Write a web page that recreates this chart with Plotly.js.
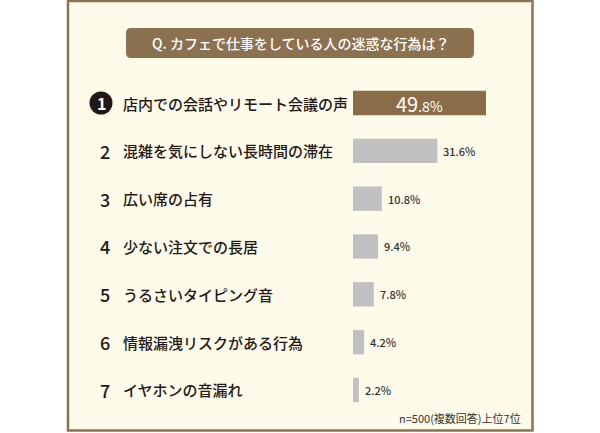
<!DOCTYPE html>
<html>
<head>
<meta charset="utf-8">
<script src="https://cdn.plot.ly/plotly-3.0.1.min.js"></script>
<style>html,body{margin:0;padding:0;background:#fff;}#chart{width:600px;height:433px;}</style>
</head>
<body>
<div id="chart"></div>
<script>
// ---- data ----
const titleText = "Q. カフェで仕事をしている人の迷惑な行為は？";
const ranks = [1, 2, 3, 4, 5, 6, 7];
const categories = [
  "店内での会話やリモート会議の声",
  "混雑を気にしない長時間の滞在",
  "広い席の占有",
  "少ない注文での長居",
  "うるさいタイピング音",
  "情報漏洩リスクがある行為",
  "イヤホンの音漏れ"
];
const values = [49.8, 31.6, 10.8, 9.4, 7.8, 4.2, 2.2];
const footnote = "n=500(複数回答)上位7位";

// ---- styles ----
const W = 600, H = 433;
const FONT = "'Noto Sans CJK JP', 'Noto Sans', sans-serif";
const brown = "#8a6d48";
const grey = "#c1c1c1";
const frameColor = "#8b7453";
const cream = "#fffbea";
const px = v => v / W;          // pixel x -> paper
const py = v => 1 - v / H;      // pixel y -> paper

const trace = {
  type: "bar",
  orientation: "h",
  y: categories,
  x: values,
  width: 0.51,
  marker: { color: values.map((v, i) => i === 0 ? brown : grey), line: { width: 0 } },
  hoverinfo: "skip"
};

const annotations = [];
const shapes = [];

// frame
shapes.push({
  type: "rect", xref: "paper", yref: "paper", layer: "below",
  x0: px(68), x1: px(532.5), y0: py(430.5), y1: py(1),
  line: { color: frameColor, width: 2.5 }, fillcolor: cream
});

// title box (rounded)
(function () {
  const l = px(126), r = px(474), t = py(28), b = py(58);
  const rx = px(5), ry = 5 / H;
  const path = `M ${l + rx} ${t} L ${r - rx} ${t} Q ${r} ${t} ${r} ${t - ry} L ${r} ${b + ry} Q ${r} ${b} ${r - rx} ${b} L ${l + rx} ${b} Q ${l} ${b} ${l} ${b + ry} L ${l} ${t - ry} Q ${l} ${t} ${l + rx} ${t} Z`;
  shapes.push({ type: "path", xref: "paper", yref: "paper", path: path, fillcolor: "#8b7150", line: { width: 0 }, layer: "below" });
})();
annotations.push({
  xref: "paper", yref: "paper", x: px(300), y: py(43.5), xanchor: "center", yanchor: "middle",
  text: titleText, showarrow: false,
  font: { family: FONT, size: 14, color: "#ffffff", weight: 500 }
});

// rank badges, labels, values
categories.forEach((c, i) => {
  if (ranks[i] === 1) {
    shapes.push({
      type: "circle", xref: "paper", yref: "y", xsizemode: "pixel", ysizemode: "pixel",
      xanchor: px(101), yanchor: i, x0: -11.5, x1: 11.5, y0: -11.5, y1: 11.5,
      fillcolor: "#231815", line: { width: 0 }
    });
    annotations.push({
      xref: "paper", yref: "y", x: px(101), y: c, xanchor: "center", yanchor: "middle",
      text: String(ranks[i]), showarrow: false,
      font: { family: FONT, size: 16, color: "#ffffff", weight: "bold" }
    });
  } else {
    annotations.push({
      xref: "paper", yref: "y", x: px(105), y: c, xanchor: "center", yanchor: "middle",
      text: String(ranks[i]), showarrow: false,
      font: { family: FONT, size: 18, color: "#231815", weight: 500 }
    });
  }
  annotations.push({
    xref: "paper", yref: "y", x: px(121), y: c, xanchor: "left", yanchor: "middle",
    text: c, showarrow: false,
    font: { family: FONT, size: 15, color: "#231815", weight: 500 }
  });
  const s = values[i].toFixed(1);
  if (i === 0) {
    const [a, b] = s.split(".");
    annotations.push({
      xref: "x", yref: "y", x: values[i] / 2, y: c, xanchor: "center", yanchor: "middle",
      text: a + "<span style='font-size:14px'>." + b + "%</span>", showarrow: false,
      font: { family: FONT, size: 20, color: "#ffffff", weight: "normal" }
    });
  } else {
    annotations.push({
      xref: "x", yref: "y", x: values[i], y: c, xanchor: "left", yanchor: "middle", xshift: 4,
      text: s + "%", showarrow: false,
      font: { family: FONT, size: 11, color: "#333333", weight: 500 }
    });
  }
});

annotations.push({
  xref: "paper", yref: "paper", x: px(523), y: py(418), xanchor: "right", yanchor: "middle",
  text: footnote, showarrow: false,
  font: { family: FONT, size: 11, color: "#333333", weight: "normal" }
});

// axis mapping: bars start at pixel 353, 2.67 px per %
const x0px = 353, k = 2.67;
const layout = {
  width: W, height: H,
  margin: { l: 0, r: 0, t: 0, b: 0, pad: 0 },
  paper_bgcolor: "#ffffff",
  plot_bgcolor: "rgba(0,0,0,0)",
  showlegend: false,
  xaxis: { range: [-x0px / k, (W - x0px) / k], visible: false, fixedrange: true },
  yaxis: { type: "category", range: [(H - 103) / 47.83, -103 / 47.83], visible: false, fixedrange: true },
  shapes: shapes,
  annotations: annotations
};

Plotly.newPlot("chart", [trace], layout, { displayModeBar: false, staticPlot: true });
</script>
</body>
</html>
